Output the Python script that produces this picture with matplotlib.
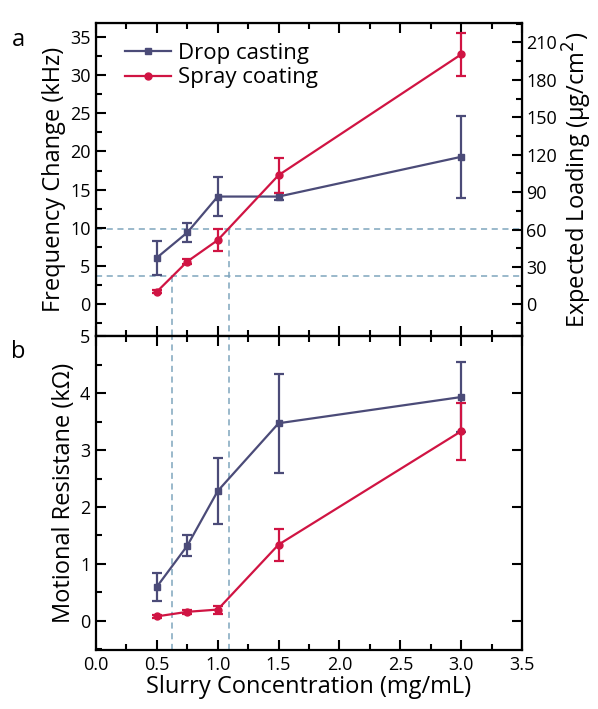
import matplotlib
matplotlib.use('Agg')
import matplotlib.pyplot as plt
from matplotlib.lines import Line2D
from matplotlib.ticker import MultipleLocator

plt.rcParams['font.family'] = ['Open Sans', 'DejaVu Sans']

conc = [0.5, 0.75, 1.0, 1.5, 3.0]

# frequency change (kHz)
drop_freq = [6.1, 9.4, 14.1, 14.1, 19.3]
drop_freq_err = [2.2, 1.25, 2.5, 0.5, 5.4]
spray_freq = [1.65, 5.6, 8.4, 16.9, 32.7]
spray_freq_err = [0.2, 0.3, 1.4, 2.3, 2.8]

# motional resistance (kOhm)
drop_res = [0.60, 1.32, 2.28, 3.47, 3.93]
drop_res_err = [0.25, 0.18, 0.58, 0.87, 0.62]
spray_res = [0.08, 0.16, 0.20, 1.34, 3.33]
spray_res_err = [0.02, 0.03, 0.07, 0.28, 0.5]

# guide lines: frequency level -> concentration
guide_freq = [3.66, 9.8]
guide_conc = [0.625, 1.09]

loading_per_khz = 6.13  # ug/cm^2 per kHz

c_drop = '#4b4b78'
c_spray = '#d01443'
c_guide = '#7fa5bd'

fig = plt.figure(figsize=(5.98, 7.09), dpi=100)
ax_f = fig.add_axes([0.1605, 0.526, 0.7125, 0.4415])
ax_r = fig.add_axes([0.1605, 0.0832, 0.7125, 0.4428])

for ax in (ax_f, ax_r):
  ax.set_xlim(0, 3.5)
  ax.xaxis.set_major_locator(MultipleLocator(0.5))
  ax.xaxis.set_minor_locator(MultipleLocator(0.25))
  ax.tick_params(which='both', direction='in', top=True, width=1.5, labelsize=13, pad=4)
  ax.tick_params(which='major', length=7)
  ax.tick_params(which='minor', length=4)
  for s in ax.spines.values():
    s.set_linewidth(1.6)

# top panel
ax_f.set_ylim(-4.15, 36.8)
ax_f.yaxis.set_major_locator(MultipleLocator(5))
ax_f.yaxis.set_minor_locator(MultipleLocator(2.5))
ax_f.tick_params(labelbottom=False)
for f in guide_freq:
  ax_f.axhline(f, color=c_guide, ls=(0, (4, 3)), lw=1.1, zorder=1)
for f, c in zip(guide_freq, guide_conc):
  ax_f.plot([c, c], [f, -4.15], color=c_guide, ls=(0, (4, 3)), lw=1.1, zorder=1)
ax_f.errorbar(conc, drop_freq, yerr=drop_freq_err, color=c_drop, marker='s', ms=5,
              lw=1.6, capsize=3.5, capthick=1.6, elinewidth=1.6, zorder=3)
ax_f.errorbar(conc, spray_freq, yerr=spray_freq_err, color=c_spray, marker='o', ms=5,
              lw=1.6, capsize=3.5, capthick=1.6, elinewidth=1.6, zorder=3)
ax_f.set_ylabel('Frequency Change (kHz)', fontsize=17, labelpad=3)
handles = [Line2D([], [], color=c_drop, marker='s', ms=5, lw=1.6),
           Line2D([], [], color=c_spray, marker='o', ms=5, lw=1.6)]
ax_f.legend(handles, ['Drop casting', 'Spray coating'], loc='upper left', frameon=False,
            fontsize=16, handlelength=2.1, borderaxespad=0.5, handletextpad=0.3,
            labelspacing=0.15, bbox_to_anchor=(0.02, 1.0))

ax_load = ax_f.twinx()
ax_load.set_ylim(-4.15 * loading_per_khz, 36.8 * loading_per_khz)
ax_load.yaxis.set_major_locator(MultipleLocator(30))
ax_load.yaxis.set_minor_locator(MultipleLocator(15))
ax_load.tick_params(which='both', direction='in', width=1.5, labelsize=13, pad=3)
ax_load.tick_params(which='major', length=7)
ax_load.tick_params(which='minor', length=4)
ax_load.set_ylabel('Expected Loading (\u03bcg/cm$^2$)', fontsize=17, labelpad=3)

# bottom panel
ax_r.set_ylim(-0.51, 5)
ax_r.yaxis.set_major_locator(MultipleLocator(1))
ax_r.yaxis.set_minor_locator(MultipleLocator(0.5))
ax_r.tick_params(right=True)
for c in guide_conc:
  ax_r.axvline(c, color=c_guide, ls=(0, (4, 3)), lw=1.1, zorder=1)
ax_r.errorbar(conc, drop_res, yerr=drop_res_err, color=c_drop, marker='s', ms=5,
              lw=1.6, capsize=3.5, capthick=1.6, elinewidth=1.6, zorder=3)
ax_r.errorbar(conc, spray_res, yerr=spray_res_err, color=c_spray, marker='o', ms=5,
              lw=1.6, capsize=3.5, capthick=1.6, elinewidth=1.6, zorder=3)
ax_r.set_ylabel('Motional Resistane (k\u03a9)', fontsize=17, labelpad=3)
ax_r.set_xlabel('Slurry Concentration (mg/mL)', fontsize=17, labelpad=1)

fig.text(0.03, 0.943, 'a', fontsize=17, ha='center', va='center')
fig.text(0.03, 0.503, 'b', fontsize=17, ha='center', va='center')

fig.savefig('out.png', dpi=100)
